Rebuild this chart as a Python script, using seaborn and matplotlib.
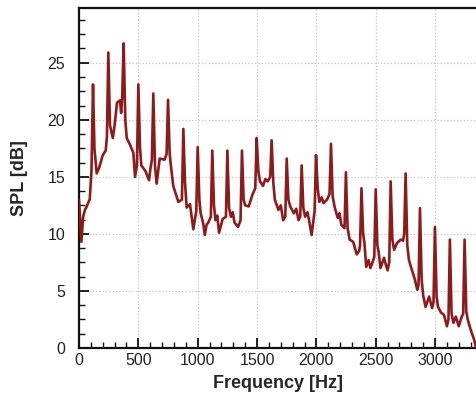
import seaborn as sns
import pandas as pd
import matplotlib.pyplot as plt
from matplotlib.ticker import MultipleLocator

# spectrum: blade-pass harmonics every ~125 Hz
# (one row per harmonic: rise, peak, fall, broadband floor)
freq = [0, 20, 35, 50, 65, 80, 90, 105, 118, 130, 149, 170, 200, 225,
        235, 247, 261, 285, 300, 320, 345, 355,
        364, 376, 390, 402, 430, 458, 472,
        488, 500, 514, 525, 560, 590, 600,
        614, 626, 640, 654, 680, 720,
        738, 750, 764, 775, 794, 837,
        867, 879, 893, 907, 935, 963,
        988, 1000, 1014, 1025, 1045, 1060, 1075, 1090,
        1111, 1123, 1137, 1150, 1165, 1180, 1210,
        1238, 1250, 1264, 1280, 1295, 1310, 1340,
        1361, 1373, 1387, 1400, 1430, 1460,
        1485, 1497, 1511, 1525, 1550, 1570, 1590,
        1611, 1623, 1637, 1650, 1680, 1700, 1720,
        1738, 1750, 1764, 1780, 1810, 1830, 1850,
        1864, 1876, 1890, 1905, 1925, 1940, 1960,
        1985, 1997, 2011, 2025, 2045, 2060, 2090,
        2111, 2123, 2137, 2155, 2180, 2195, 2210,
        2237, 2249, 2263, 2280, 2310, 2340, 2360,
        2368, 2380, 2394, 2405, 2420, 2440, 2455, 2470,
        2488, 2500, 2514, 2525, 2540, 2570, 2585, 2600,
        2614, 2626, 2640, 2655, 2680, 2710, 2730,
        2740, 2752, 2766, 2780, 2800, 2830, 2850,
        2861, 2873, 2887, 2900, 2920, 2950, 2975,
        2987, 2999, 3013, 3025, 3050, 3075, 3100,
        3113, 3125, 3139, 3155, 3175, 3200, 3225,
        3237, 3249, 3263, 3275, 3300, 3330, 3345]
spl = [13.0, 9.3, 11.5, 12.1, 12.4, 12.8, 13.0, 15.5, 23.1, 17.5, 15.3, 15.8, 16.9, 17.3,
       18.5, 25.9, 19.5, 18.4, 19.5, 21.5, 21.7, 20.6,
       22.0, 26.7, 20.0, 18.4, 17.8, 17.1, 15.0,
       16.0, 23.1, 17.5, 16.0, 15.5, 14.7, 15.6,
       16.5, 22.3, 16.0, 14.4, 16.6, 16.5,
       17.0, 21.75, 17.0, 15.9, 14.2, 12.8,
       13.0, 19.2, 14.5, 12.3, 12.6, 10.4,
       12.0, 17.6, 13.0, 11.8, 11.0, 9.9, 10.8, 11.0,
       11.5, 17.3, 12.5, 11.2, 11.6, 10.1, 11.3,
       11.5, 17.3, 12.3, 11.5, 11.9, 11.0, 10.6,
       11.2, 17.3, 13.0, 12.5, 12.4, 13.4,
       14.0, 18.4, 15.5, 14.6, 14.2, 14.8, 14.6,
       15.0, 18.2, 14.5, 13.0, 12.1, 12.5, 11.2,
       11.5, 16.6, 13.0, 12.4, 11.8, 12.2, 11.2,
       11.5, 16.0, 12.3, 11.5, 11.9, 11.1, 9.9,
       12.0, 16.9, 14.0, 12.8, 13.2, 12.7, 13.0,
       13.5, 17.9, 13.3, 12.3, 11.4, 11.8, 10.8,
       10.5, 15.4, 10.5, 9.5, 9.3, 8.2, 8.5,
       9.0, 14.0, 10.0, 9.2, 7.1, 7.7, 7.0, 7.4,
       8.0, 13.9, 9.0, 8.4, 7.0, 7.9, 7.3, 6.8,
       7.5, 14.6, 9.5, 8.6, 9.2, 9.5, 9.4,
       10.0, 15.3, 9.0, 7.7, 7.0, 6.0, 5.1,
       5.5, 12.25, 6.0, 4.6, 3.6, 4.5, 3.5,
       4.0, 10.6, 4.5, 3.6, 3.1, 2.9, 1.9,
       2.5, 9.5, 3.0, 2.2, 2.75, 1.9, 2.75,
       3.0, 9.5, 3.2, 2.5, 1.6, 0.7, 0.0]

x_ticks = [0, 500, 1000, 1500, 2000, 2500, 3000]
y_ticks = [0, 5, 10, 15, 20, 25]

df = pd.DataFrame({"Frequency": freq, "SPL": spl})

sns.set_style("white")
plt.rcParams['font.family'] = ['Liberation Sans', 'DejaVu Sans']

fig = plt.figure(figsize=(4.76, 3.99), dpi=100)
ax = fig.add_axes([0.166, 0.128, 0.834, 0.852])

sns.lineplot(data=df, x="Frequency", y="SPL", ax=ax, color="#8e1b1b",
             linewidth=1.9, sort=False, zorder=3)

ax.set_xlim(0, 3345)
ax.set_ylim(0, 29.8)
ax.set_xticks(x_ticks)
ax.set_yticks(y_ticks)
ax.xaxis.set_minor_locator(MultipleLocator(100))
ax.yaxis.set_minor_locator(MultipleLocator(1.25))
ax.grid(True, which="major", linestyle=":", color="#c4c4c4", linewidth=0.9)

for side in ["left", "bottom", "top"]:
    ax.spines[side].set_color("#111111")
    ax.spines[side].set_linewidth(1.6)
ax.spines["right"].set_visible(False)

ax.tick_params(axis="both", which="major", direction="in", length=7, width=1.3,
               labelsize=11.5, labelcolor="#222222", color="#111111",
               left=True, bottom=True)
ax.tick_params(axis="both", which="minor", direction="in", length=4, width=1.0,
               color="#111111", left=True, bottom=True)
ax.tick_params(axis="y", pad=10)
ax.tick_params(axis="x", pad=4)

ax.set_xlabel("Frequency [Hz]", fontsize=13, fontweight="bold", labelpad=5)
ax.set_ylabel("SPL [dB]", fontsize=13, fontweight="bold", labelpad=14)

fig.savefig("out.png", dpi=100)
